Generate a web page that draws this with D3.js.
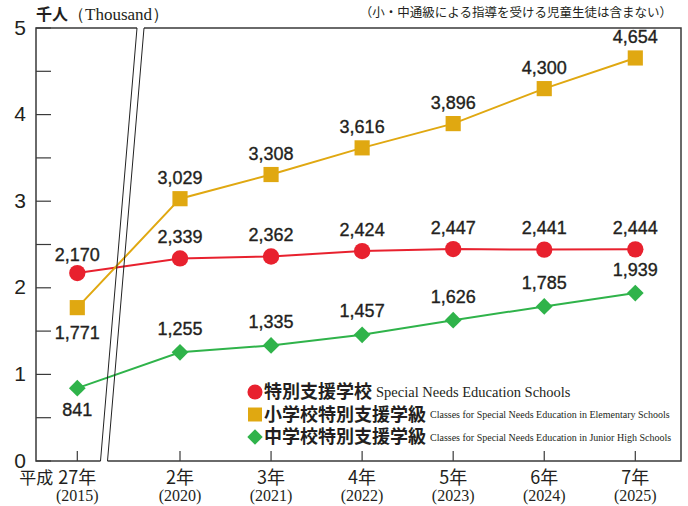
<!DOCTYPE html>
<html>
<head>
<meta charset="utf-8">
<script src="https://cdn.jsdelivr.net/npm/d3@7"></script>
<style>
  body { margin: 0; background: #fff; }
  svg { display: block; }
</style>
</head>
<body>
<script>
var width = 688;
var height = 506;

// data (thousands of students)
var years = [2015, 2020, 2021, 2022, 2023, 2024, 2025];
var eraLabels = ["27年", "2年", "3年", "4年", "5年", "6年", "7年"];
var schools = [2170, 2339, 2362, 2424, 2447, 2441, 2444];
var elementary = [1771, 3029, 3308, 3616, 3896, 4300, 4654];
var juniorHigh = [841, 1255, 1335, 1457, 1626, 1785, 1939];
var yTicks = [0, 1, 2, 3, 4, 5];

var mLeft = 36, mRight = 681, mTop = 28, mBottom = 461;

var svg = d3.select("body")
    .append("svg")
    .attr("width", width)
    .attr("height", height);

var x = d3.scaleLinear()
    .domain([2015, 2020, 2025])
    .range([77.3, 180, 635.3]);

var y = d3.scaleLinear()
    .domain([0, 5])
    .range([mBottom, mTop]);

var frame = "#3a3a3a";

// frame: left, top (with break gap), right, bottom (with break gap)
var brk = [[137, 144], [100.5, 107.5]]; // top x pair, bottom x pair
svg.append("path")
    .attr("d", "M" + brk[0][0] + "," + mTop + "H" + mLeft + "V" + mBottom + "H" + brk[1][0]
        + "M" + brk[0][1] + "," + mTop + "H" + mRight + "V" + mBottom + "H" + brk[1][1])
    .attr("fill", "none")
    .attr("stroke", frame)
    .attr("stroke-width", 1.5);

// y ticks (inward)
svg.append("g")
    .selectAll("line")
    .data(d3.range(0, 5.01, 0.5))
    .join("line")
    .attr("x1", mLeft)
    .attr("x2", mLeft + 15)
    .attr("y1", function(d){ return y(d); })
    .attr("y2", function(d){ return y(d); })
    .attr("stroke", frame)
    .attr("stroke-width", 1.2);

svg.append("g")
    .selectAll("text")
    .data(yTicks)
    .join("text")
    .attr("x", 20)
    .attr("y", function(d){ return y(d) - 1; })
    .attr("dy", "0.36em")
    .attr("text-anchor", "middle")
    .style("font-family", "'Liberation Sans', Arial, sans-serif")
    .style("font-size", "21px")
    .style("fill", "#231f20")
    .text(function(d){ return d; });

// x ticks (upward)
svg.append("g")
    .selectAll("line")
    .data(years)
    .join("line")
    .attr("x1", function(d){ return x(d); })
    .attr("x2", function(d){ return x(d); })
    .attr("y1", mBottom)
    .attr("y2", mBottom - 10)
    .attr("stroke", frame)
    .attr("stroke-width", 1.2);

var xl = svg.append("g")
    .selectAll("g")
    .data(years)
    .join("g")
    .attr("transform", function(d){ return "translate(" + x(d) + ",0)"; });

xl.append("text")
    .attr("y", 484)
    .attr("text-anchor", "middle")
    .style("font-family", "'Noto Sans CJK JP', sans-serif")
    .style("font-size", "18px")
    .style("fill", "#231f20")
    .text(function(d, i){ return eraLabels[i]; });

xl.append("text")
    .attr("y", 501)
    .attr("text-anchor", "middle")
    .style("font-family", "'Liberation Serif', 'DejaVu Serif', serif")
    .style("font-size", "16px")
    .style("fill", "#231f20")
    .text(function(d){ return "(" + d + ")"; });

svg.append("text")
    .attr("x", x(2015) - 24)
    .attr("y", 484)
    .attr("text-anchor", "end")
    .style("font-family", "'Noto Sans CJK JP', sans-serif")
    .style("font-size", "17px")
    .style("fill", "#231f20")
    .text("平成");

// header texts
var unit = svg.append("text")
    .attr("x", 36)
    .attr("y", 20)
    .style("fill", "#231f20");
unit.append("tspan")
    .style("font-family", "'Noto Sans CJK JP', sans-serif")
    .style("font-weight", "bold")
    .style("font-size", "16px")
    .text("千人");
unit.append("tspan")
    .style("font-family", "'Liberation Serif', serif")
    .style("font-size", "17px")
    .text("（Thousand）");

svg.append("text")
    .attr("x", 672)
    .attr("y", 17)
    .attr("text-anchor", "end")
    .style("font-family", "'Noto Sans CJK JP', sans-serif")
    .style("font-size", "12.5px")
    .style("fill", "#231f20")
    .text("（小・中通級による指導を受ける児童生徒は含まない）");

// series
var series = [
    { name: "特別支援学校", en: "Special Needs Education Schools", enSize: 14.5,
      values: schools, color: "#e8212e", shape: d3.symbolCircle, size: 210, rot: 0,
      offsets: [-19, -22, -22, -22, -22, -22, -22] },
    { name: "小学校特別支援学級", en: "Classes for Special Needs Education in Elementary Schools", enSize: 10,
      values: elementary, color: "#e0a811", shape: d3.symbolSquare, size: 230, rot: 0,
      offsets: [25, -21, -21, -21, -21, -21, -21] },
    { name: "中学校特別支援学級", en: "Classes for Special Needs Education in Junior High Schools", enSize: 10,
      values: juniorHigh, color: "#2fb34a", shape: d3.symbolSquare, size: 140, rot: 45,
      offsets: [21, -24, -24, -24, -24, -24, -24] }
];

var line = d3.line()
    .x(function(d, i){ return x(years[i]); })
    .y(function(d){ return y(d / 1000); });

var fmt = d3.format(",");

series.forEach(function(s){
    svg.append("path")
        .attr("d", line(s.values))
        .attr("fill", "none")
        .attr("stroke", s.color)
        .attr("stroke-width", 2);
});

// break lines (drawn over the series lines)
svg.append("g")
    .selectAll("line")
    .data([0, 1])
    .join("line")
    .attr("x1", function(i){ return brk[0][i]; })
    .attr("y1", mTop)
    .attr("x2", function(i){ return brk[1][i]; })
    .attr("y2", mBottom)
    .attr("stroke", "#222")
    .attr("stroke-width", 1);

series.forEach(function(s){
    svg.append("g")
        .selectAll("path")
        .data(s.values)
        .join("path")
        .attr("transform", function(d, i){
            return "translate(" + x(years[i]) + "," + y(d / 1000) + ") rotate(" + s.rot + ")";
        })
        .attr("d", d3.symbol().type(s.shape).size(s.size))
        .attr("fill", s.color);

    svg.append("g")
        .selectAll("text")
        .data(s.values)
        .join("text")
        .attr("x", function(d, i){ return x(years[i]); })
        .attr("y", function(d, i){ return y(d / 1000) + s.offsets[i]; })
        .attr("dy", "0.36em")
        .attr("text-anchor", "middle")
        .style("font-family", "'Liberation Sans', Arial, sans-serif")
        .style("font-size", "18px")
        .style("fill", "#231f20")
        .style("stroke", "#231f20")
        .style("stroke-width", 0.35)
        .text(function(d){ return fmt(d); });
});

// legend
var legend = svg.append("g")
    .selectAll("g")
    .data(series)
    .join("g")
    .attr("transform", function(d, i){ return "translate(255," + (392 + i * 22.5) + ")"; });

legend.append("path")
    .attr("transform", function(d){ return "rotate(" + d.rot + ")"; })
    .attr("d", function(d){ return d3.symbol().type(d.shape).size(d.size * 0.85)(); })
    .attr("fill", function(d){ return d.color; });

legend.append("text")
    .attr("x", 9)
    .attr("dy", "0.36em")
    .style("font-family", "'Noto Sans CJK JP', sans-serif")
    .style("font-weight", "bold")
    .style("font-size", "18px")
    .style("fill", "#231f20")
    .text(function(d){ return d.name; });

legend.append("text")
    .attr("x", function(d){ return d.name.length * 18 + 13; })
    .attr("dy", "0.36em")
    .style("font-family", "'Liberation Serif', serif")
    .style("font-size", function(d){ return d.enSize + "px"; })
    .style("fill", "#231f20")
    .text(function(d){ return d.en; });
</script>
</body>
</html>
